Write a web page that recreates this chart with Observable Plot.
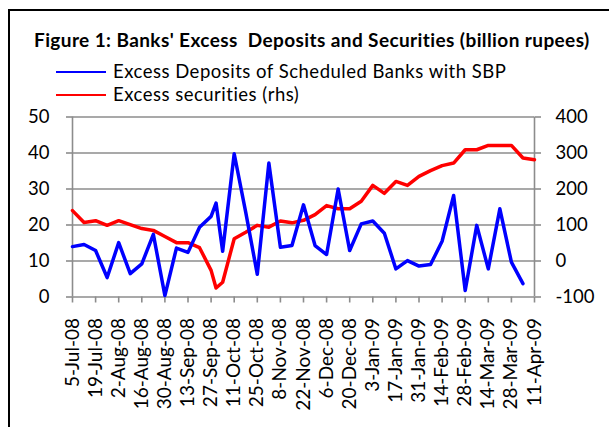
<!DOCTYPE html>
<html>
<head>
<meta charset="utf-8">
<script src="https://cdn.jsdelivr.net/npm/d3@7"></script>
<script src="https://cdn.jsdelivr.net/npm/@observablehq/plot@0.6"></script>
<style>
  html, body { margin: 0; padding: 0; background: #fff; }
  #page { position: relative; width: 609px; height: 427px; overflow: hidden; font-family: Lato, "Open Sans", sans-serif; color: #000; }
  #frame { position: absolute; left: 8px; top: 9px; width: 700px; height: 500px; border: 2px solid #000; box-sizing: border-box; }
  #title { position: absolute; left: 34px; top: 28px; font-weight: bold; font-size: 19px; white-space: pre; letter-spacing: 0.4px; }
  .leg { position: absolute; left: 113px; font-size: 18.5px; white-space: pre; letter-spacing: 0.5px; }
  .legline { position: absolute; left: 56px; width: 50px; height: 0; border-top: 2px solid; }
  #chart { position: absolute; left: 0; top: 100px; }
</style>
</head>
<body>
<div id="page">
  <div id="frame"></div>
  <div id="title"></div>
  <div class="legline" id="l1" style="top:71px;border-color:#0000ff"></div>
  <div class="leg" id="t1" style="top:60px"></div>
  <div class="legline" id="l2" style="top:94px;border-color:#ff0000"></div>
  <div class="leg" id="t2" style="top:83px"></div>
  <div id="chart"></div>
</div>
<script>
const titleText = "Figure 1: Banks' Excess  Deposits and Securities (billion rupees)";
const seriesNames = ["Excess Deposits of Scheduled Banks with SBP", "Excess securities (rhs)"];
const seriesColors = ["#0000ff", "#ff0000"];

const dates = [
  "2008-07-05","2008-07-12","2008-07-19","2008-07-26","2008-08-02","2008-08-09","2008-08-16","2008-08-23",
  "2008-08-30","2008-09-06","2008-09-13","2008-09-20","2008-09-27","2008-09-30","2008-10-04","2008-10-11",
  "2008-10-18","2008-10-25","2008-11-01","2008-11-08","2008-11-15","2008-11-22","2008-11-29","2008-12-06",
  "2008-12-13","2008-12-20","2008-12-27","2009-01-03","2009-01-10","2009-01-17","2009-01-24","2009-01-31",
  "2009-02-07","2009-02-14","2009-02-21","2009-02-28","2009-03-07","2009-03-14","2009-03-21","2009-03-28",
  "2009-04-04","2009-04-11"
];
// left axis (billion rupees)
const excessDeposits = [
  14.0, 14.6, 12.9, 5.4, 15.1, 6.5, 9.2, 17.4,
  0.4, 13.6, 12.4, 19.4, 22.4, 26.1, 12.7, 39.8,
  23.5, 6.3, 37.2, 13.8, 14.3, 25.6, 14.3, 11.8,
  30.0, 12.9, 20.3, 21.1, 17.7, 7.8, 10.1, 8.6,
  9.0, 15.5, 28.2, 1.8, 19.9, 7.8, 24.5, 9.7,
  3.7, null
];
// right axis (billion rupees)
const excessSecurities = [
  140, 107, 112, 99, 112, 101, 90, 85,
  68, 51, 51, 37, -26, -75, -59, 62,
  80, 99, 94, 111, 106, 113, 129, 154,
  145, 145, 166, 210, 188, 221, 210, 235,
  251, 265, 272, 309, 309, 321, 321, 321,
  286, 281
];
const leftTicks = [0, 10, 20, 30, 40, 50];
const rightTicks = [-100, 0, 100, 200, 300, 400];
const xTickDates = [
  "2008-07-05","2008-07-19","2008-08-02","2008-08-16","2008-08-30","2008-09-13","2008-09-27",
  "2008-10-11","2008-10-25","2008-11-08","2008-11-22","2008-12-06","2008-12-20","2009-01-03",
  "2009-01-17","2009-01-31","2009-02-14","2009-02-28","2009-03-14","2009-03-28","2009-04-11"
];

document.getElementById("title").textContent = titleText;
document.getElementById("t1").textContent = seriesNames[0];
document.getElementById("t2").textContent = seriesNames[1];

const parse = d3.utcParse("%Y-%m-%d");
const fmt = d3.utcFormat("%-d-%b-%y");
// map right-axis values onto left scale: -100..400 -> 0..50
const toLeft = v => (v - rightTicks[0]) * (leftTicks[leftTicks.length - 1] - leftTicks[0]) / (rightTicks[rightTicks.length - 1] - rightTicks[0]) + leftTicks[0];
const fromLeft = y => Math.round((y - leftTicks[0]) * (rightTicks[rightTicks.length - 1] - rightTicks[0]) / (leftTicks[leftTicks.length - 1] - leftTicks[0]) + rightTicks[0]);

const rows = dates.map((d, i) => ({date: parse(d), dep: excessDeposits[i], sec: excessSecurities[i]}));
const depRows = rows.filter(r => r.dep != null);
const xDomain = [parse(dates[0]), parse(dates[dates.length - 1])];
const gray = "#8c8c8c";

const chart = Plot.plot({
  width: 609,
  height: 327,
  marginLeft: 72,
  marginRight: 75,
  marginTop: 16.5,
  marginBottom: 130.5,
  x: {type: "utc", domain: xDomain},
  y: {domain: [leftTicks[0], leftTicks[leftTicks.length - 1]]},
  style: {fontFamily: "Lato, 'Open Sans', sans-serif", fontSize: "18px", color: "#000", background: "transparent", overflow: "visible"},
  marks: [
    Plot.gridY(leftTicks, {stroke: gray, strokeOpacity: 1, strokeWidth: 1.6}),
    Plot.ruleX([xDomain[0], xDomain[1]], {stroke: gray, strokeWidth: 1.6}),
    Plot.axisY(leftTicks, {anchor: "left", tickSize: 6, tickPadding: 17, stroke: gray, strokeWidth: 1.6, fill: "#000", label: null, fontSize: 18.5}),
    Plot.axisY(rightTicks.map(toLeft), {anchor: "right", tickSize: 6, tickPadding: 15, tickFormat: fromLeft, stroke: gray, strokeWidth: 1.6, fill: "#000", label: null, fontSize: 18.5}),
    Plot.axisX(xTickDates.map(parse), {anchor: "bottom", tickSize: 6, tickPadding: 15, tickRotate: -90, tickFormat: fmt, stroke: gray, strokeWidth: 1.6, fill: "#000", label: null, fontSize: 19}),
    Plot.line(rows, {x: "date", y: d => toLeft(d.sec), stroke: seriesColors[1], strokeWidth: 3.5, strokeLinejoin: "round"}),
    Plot.line(depRows, {x: "date", y: "dep", stroke: seriesColors[0], strokeWidth: 3.5, strokeLinejoin: "round"})
  ]
});
document.getElementById("chart").appendChild(chart);
</script>
</body>
</html>
